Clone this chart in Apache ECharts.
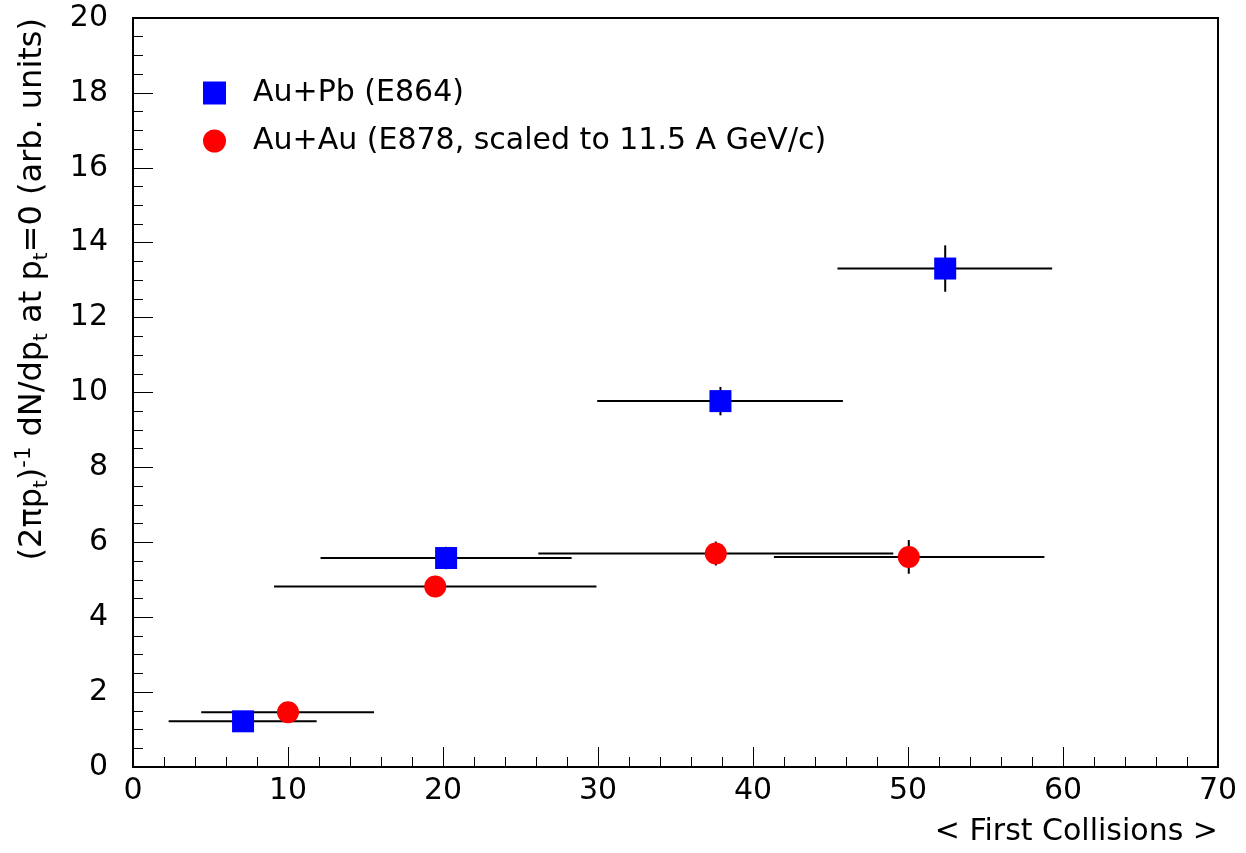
<!DOCTYPE html>
<html>
<head>
<meta charset="utf-8">
<script src="https://cdn.jsdelivr.net/npm/echarts@6/dist/echarts.min.js"></script>
<style>
  html, body { margin: 0; padding: 0; background: #fff; }
  #main { width: 1246px; height: 853px; }
</style>
</head>
<body>
<div id="main"></div>
<script>
// Au+Pb (E864)
var pbX = [7.1, 20.2, 37.9, 52.4];
var pbY = [1.22, 5.58, 9.77, 13.31];
var pbXLo = [2.3, 12.1, 29.95, 45.45];
var pbXHi = [11.85, 28.3, 45.8, 59.3];
var pbYErr = [0.15, 0.3, 0.38, 0.62];

// Au+Au (E878, scaled)
var auX = [10.0, 19.5, 37.6, 50.05];
var auY = [1.46, 4.82, 5.70, 5.61];
var auXLo = [4.4, 9.1, 26.15, 41.35];
var auXHi = [15.55, 29.9, 49.05, 58.8];
var auYErr = [0.15, 0.2, 0.32, 0.45];

var FONT = 'DejaVu Sans';
var FS = 30;

function points(xs, ys) {
  return xs.map(function (x, i) { return [x, ys[i]]; });
}
function errRows(xs, ys, xlo, xhi, yerr) {
  return xs.map(function (x, i) { return [x, ys[i], xlo[i], xhi[i], ys[i] - yerr[i], ys[i] + yerr[i]]; });
}

// error bars: horizontal xlo..xhi, vertical ylo..yhi
function renderErr(params, api) {
  var x = api.value(0), y = api.value(1);
  var a = api.coord([api.value(2), y]);
  var b = api.coord([api.value(3), y]);
  var c = api.coord([x, api.value(4)]);
  var d = api.coord([x, api.value(5)]);
  var st = { stroke: '#000', lineWidth: 2 };
  return {
    type: 'group',
    children: [
      { type: 'line', shape: { x1: a[0], y1: a[1], x2: b[0], y2: b[1] }, style: st },
      { type: 'line', shape: { x1: c[0], y1: c[1], x2: d[0], y2: d[1] }, style: st }
    ]
  };
}

var chart = echarts.init(document.getElementById('main'));

var option = {
  animation: false,
  backgroundColor: '#fff',
  textStyle: { fontFamily: FONT },
  grid: {
    left: 133,
    right: 28,
    top: 18,
    bottom: 86,
    show: true,
    borderColor: '#000',
    borderWidth: 2,
    containLabel: false,
    outerBoundsMode: 'none'
  },
  graphic: [
    // y axis title, top-aligned like the original
    {
      type: 'text',
      x: 33,
      y: 18,
      rotation: Math.PI / 2,
      style: {
        text: '({n|2πp}{sub|t}){sup|-1}{n| dN/dp}{sub|t}{n| at p}{sub|t}{n|=0 (arb. units)}',
        align: 'right',
        verticalAlign: 'middle',
        fill: '#000',
        font: '32px "' + FONT + '"',
        rich: {
          n: { fontSize: 32, fontFamily: FONT, fill: '#000', lineHeight: 38 },
          sub: { fontSize: 20, fontFamily: FONT, fill: '#000', lineHeight: 12, verticalAlign: 'bottom' },
          sup: { fontSize: 21, fontFamily: FONT, fill: '#000', lineHeight: 14, verticalAlign: 'top' }
        }
      }
    },
    // x axis title, right-aligned under the axis end
    {
      type: 'text',
      x: 1218,
      y: 832,
      style: {
        text: '< First Collisions >',
        align: 'right',
        verticalAlign: 'middle',
        fill: '#000',
        font: FS + 'px "' + FONT + '"'
      }
    }
  ],
  legend: {
    orient: 'vertical',
    left: 198,
    top: 73,
    itemWidth: 23,
    itemHeight: 23,
    itemGap: 18,
    textStyle: { fontSize: FS, fontFamily: FONT, color: '#000', lineHeight: 28, padding: [0, 0, 0, 22] },
    data: [
      { name: 'Au+Pb (E864)', icon: 'rect' },
      { name: 'Au+Au (E878, scaled to 11.5 A GeV/c)', icon: 'circle' }
    ]
  },
  xAxis: {
    type: 'value',
    min: 0,
    max: 70,
    interval: 10,
    axisLine: { lineStyle: { color: '#000', width: 2 } },
    axisTick: { inside: true, length: 20, lineStyle: { color: '#000', width: 1 } },
    minorTick: { show: true, splitNumber: 5, length: 10, lineStyle: { color: '#000', width: 1 } },
    axisLabel: { fontSize: FS, fontFamily: FONT, color: '#000', margin: 9 },
    splitLine: { show: false }
  },
  yAxis: {
    type: 'value',
    min: 0,
    max: 20,
    interval: 2,
    axisLine: { lineStyle: { color: '#000', width: 2 } },
    axisTick: { inside: true, length: 20, lineStyle: { color: '#000', width: 1 } },
    minorTick: { show: true, splitNumber: 4, length: 10, lineStyle: { color: '#000', width: 1 } },
    axisLabel: { fontSize: FS, fontFamily: FONT, color: '#000', margin: 25 },
    splitLine: { show: false }
  },
  series: [
    {
      name: 'pb-err',
      type: 'custom',
      renderItem: renderErr,
      encode: { x: 0, y: 1 },
      data: errRows(pbX, pbY, pbXLo, pbXHi, pbYErr),
      z: 1,
      silent: true
    },
    {
      name: 'au-err',
      type: 'custom',
      renderItem: renderErr,
      encode: { x: 0, y: 1 },
      data: errRows(auX, auY, auXLo, auXHi, auYErr),
      z: 1,
      silent: true
    },
    {
      name: 'Au+Pb (E864)',
      type: 'scatter',
      symbol: 'rect',
      symbolSize: 22,
      itemStyle: { color: '#0000ff', opacity: 1 },
      data: points(pbX, pbY),
      z: 3
    },
    {
      name: 'Au+Au (E878, scaled to 11.5 A GeV/c)',
      type: 'scatter',
      symbol: 'circle',
      symbolSize: 22,
      itemStyle: { color: '#ff0000', opacity: 1 },
      data: points(auX, auY),
      z: 3
    }
  ]
};

chart.setOption(option);
</script>
</body>
</html>
